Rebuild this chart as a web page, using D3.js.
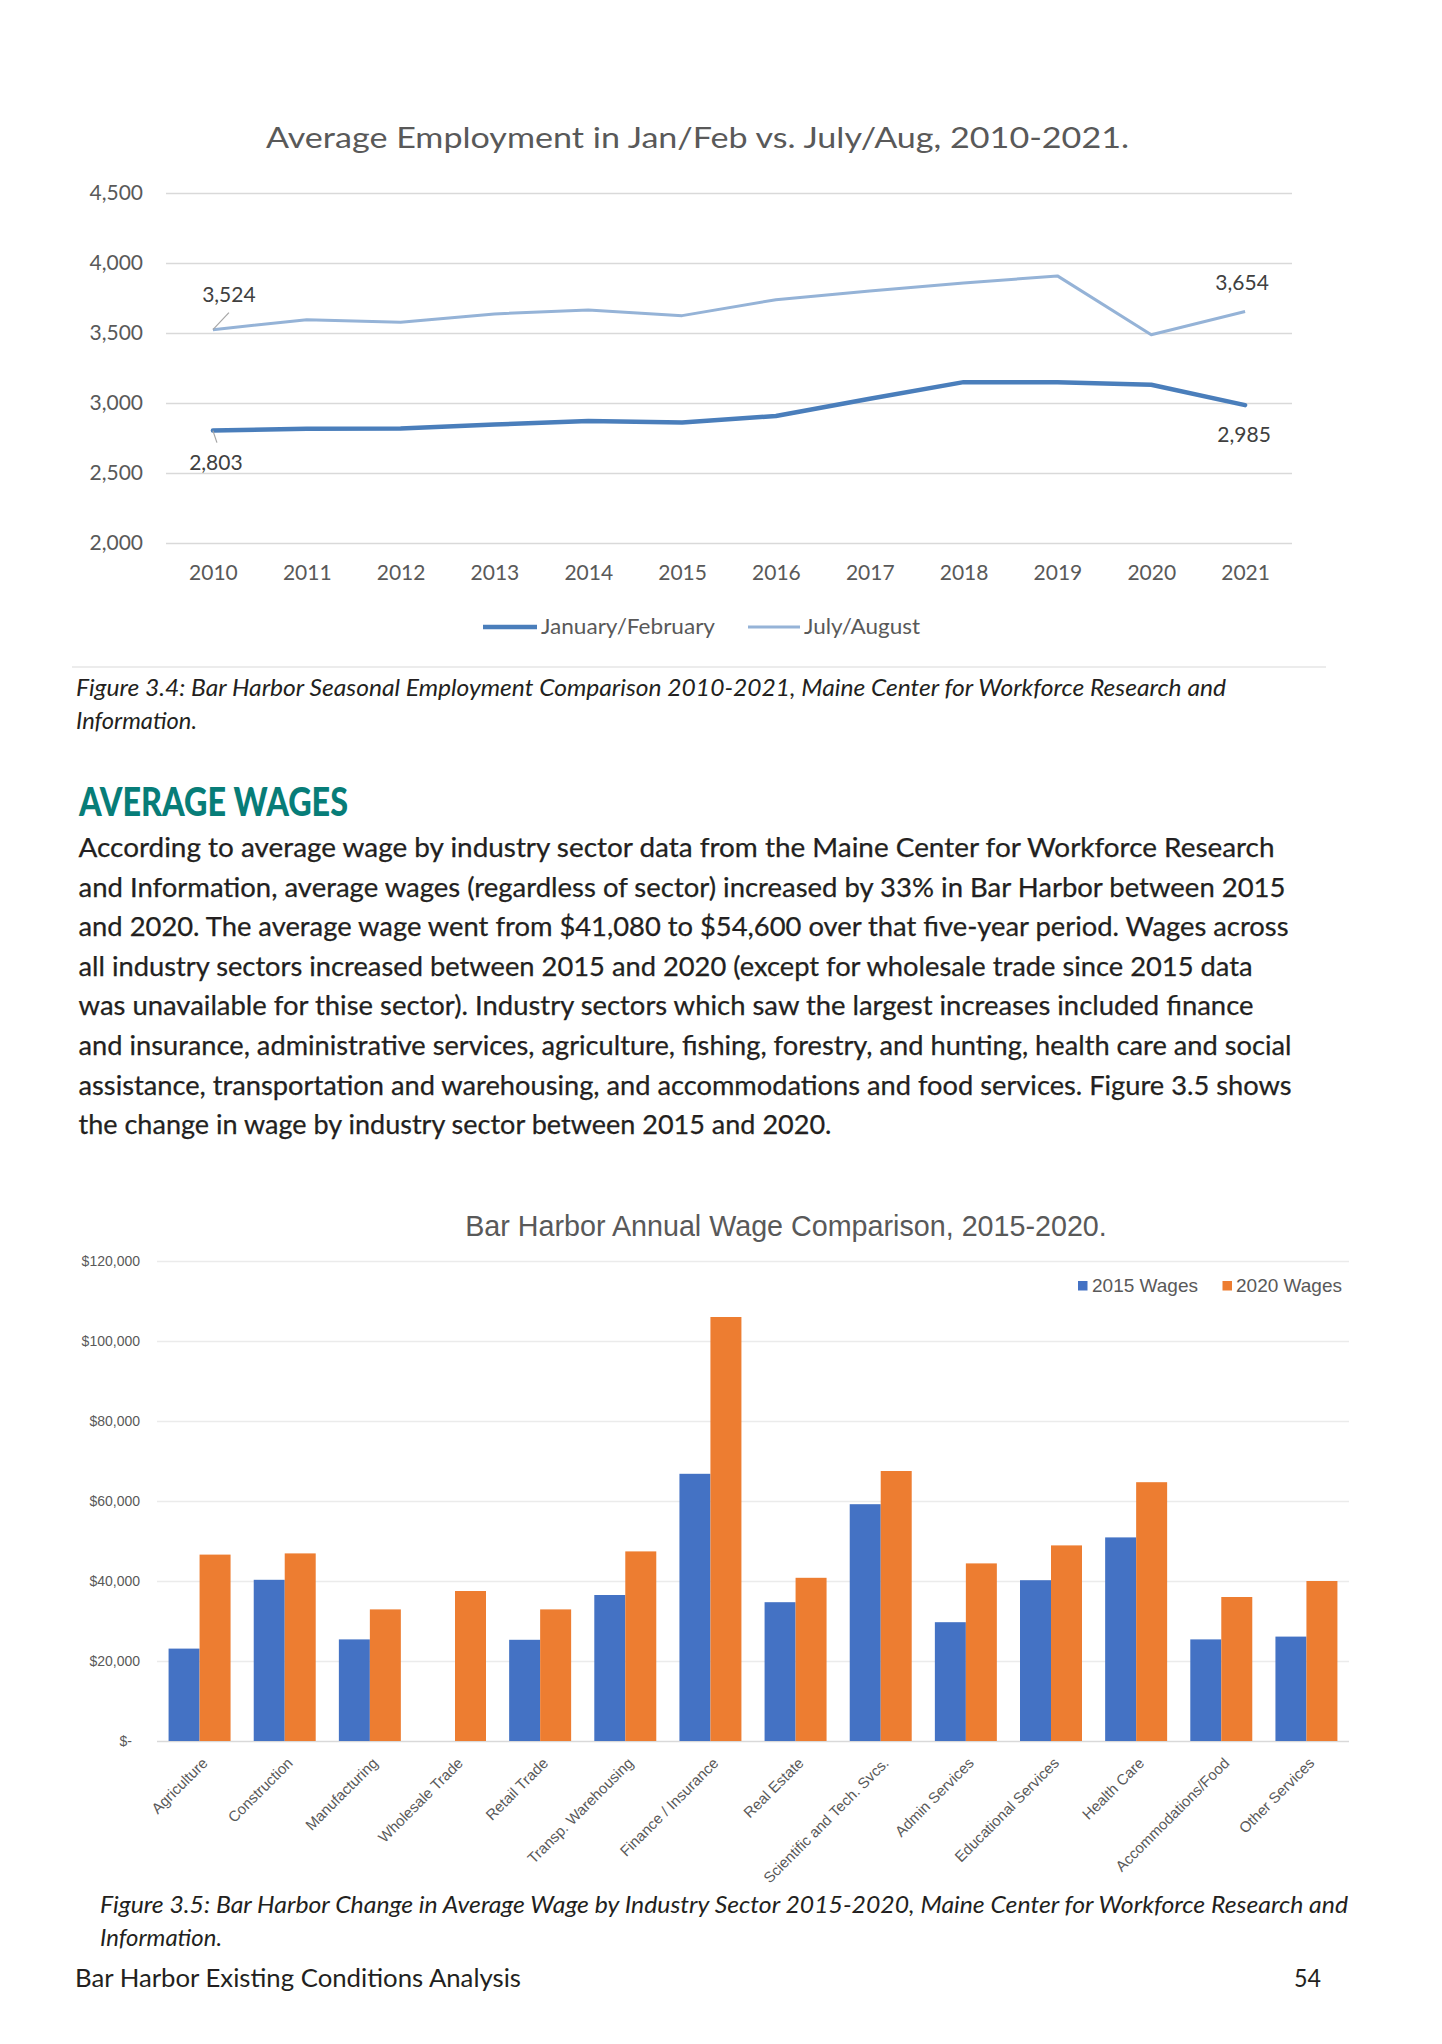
<!DOCTYPE html>
<html>
<head>
<meta charset="utf-8">
<script src="https://cdn.jsdelivr.net/npm/d3@7"></script>
<style>
  body { margin: 0; background: #fff; }
</style>
</head>
<body>
<svg id="page"></svg>
<script>
const width = 1442;
const height = 2044;

// Figure 3.4 - seasonal employment
const years = [2010, 2011, 2012, 2013, 2014, 2015, 2016, 2017, 2018, 2019, 2020, 2021];
const janFeb = [2803, 2816, 2817, 2846, 2872, 2860, 2907, 3030, 3149, 3149, 3130, 2985];
const julAug = [3524, 3595, 3576, 3636, 3665, 3624, 3738, 3800, 3857, 3908, 3487, 3654];
const empTicks = [2000, 2500, 3000, 3500, 4000, 4500];
const empSeries = ["January/February", "July/August"];

// Figure 3.5 - wages by industry sector
const industries = ["Agriculture", "Construction", "Manufacturing", "Wholesale Trade", "Retail Trade",
    "Transp. Warehousing", "Finance / Insurance", "Real Estate", "Scientific and Tech. Svcs.",
    "Admin Services", "Educational Services", "Health Care", "Accommodations/Food", "Other Services"];
const wages2015 = [23100, 40300, 25400, null, 25300, 36500, 66800, 34700, 59200, 29700, 40200, 50900, 25400, 26100];
const wages2020 = [46600, 46900, 32900, 37500, 32900, 47400, 106000, 40800, 67500, 44400, 48900, 64700, 36000, 40000];
const wageTicks = [0, 20000, 40000, 60000, 80000, 100000, 120000];
const wageSeries = ["2015 Wages", "2020 Wages"];

// Page text
const chart1Title = "Average Employment in Jan/Feb vs. July/Aug, 2010-2021.";
const chart2Title = "Bar Harbor Annual Wage Comparison, 2015-2020.";
const caption34 = ["Figure 3.4: Bar Harbor Seasonal Employment Comparison 2010-2021, Maine Center for Workforce Research and",
    "Information."];
const caption35 = ["Figure 3.5: Bar Harbor Change in Average Wage by Industry Sector 2015-2020, Maine Center for Workforce Research and",
    "Information."];
const heading = "AVERAGE WAGES";
const paragraph = [
    "According to average wage by industry sector data from the Maine Center for Workforce Research",
    "and Information, average wages (regardless of sector) increased by 33% in Bar Harbor between 2015",
    "and 2020. The average wage went from $41,080 to $54,600 over that five-year period. Wages across",
    "all industry sectors increased between 2015 and 2020 (except for wholesale trade since 2015 data",
    "was unavailable for thise sector). Industry sectors which saw the largest increases included finance",
    "and insurance, administrative services, agriculture, fishing, forestry, and hunting, health care and social",
    "assistance, transportation and warehousing, and accommodations and food services. Figure 3.5 shows",
    "the change in wage by industry sector between 2015 and 2020."
];
const footerLeft = "Bar Harbor Existing Conditions Analysis";
const footerRight = "54";

const bodyFont = "Lato, 'Open Sans', sans-serif";
const arialFont = "'Liberation Sans', Arial, sans-serif";

var svg = d3.select("#page")
    .attr("width", width)
    .attr("height", height)
    .attr("viewBox", `0 0 ${width} ${height}`);

svg.append("rect").attr("width", width).attr("height", height).attr("fill", "#fff");

// ---------- Line chart ----------
const lineX = d3.scalePoint().domain(years).range([166, 1292]).padding(0.5);
const lineY = d3.scaleLinear().domain([2000, 4500]).range([543, 193]);

const lineChart = svg.append("g").attr("class", "line-chart");

lineChart.append("text")
    .attr("x", 266).attr("y", 148)
    .attr("font-family", bodyFont).attr("font-size", 29)
    .attr("fill", "#595959")
    .attr("textLength", 863).attr("lengthAdjust", "spacingAndGlyphs")
    .text(chart1Title);

lineChart.append("g")
    .attr("transform", "translate(166,0)")
    .call(d3.axisLeft(lineY).tickValues(empTicks).tickSize(-(1292 - 166)).tickPadding(23).tickFormat(d3.format(",")))
    .call(g => g.select(".domain").remove())
    .call(g => g.selectAll(".tick line").attr("stroke", "#d9d9d9").attr("stroke-width", 1.5))
    .call(g => g.selectAll(".tick text").attr("fill", "#595959").attr("font-size", 21).attr("font-family", bodyFont));

lineChart.append("g")
    .attr("transform", "translate(0,543)")
    .call(d3.axisBottom(lineX).tickSize(0).tickPadding(22))
    .call(g => g.select(".domain").remove())
    .call(g => g.selectAll(".tick text").attr("fill", "#595959").attr("font-size", 21).attr("font-family", bodyFont));

const line = d3.line()
    .x((d, i) => lineX(years[i]))
    .y(d => lineY(d));

lineChart.append("path")
    .attr("d", line(julAug))
    .attr("fill", "none").attr("stroke", "#95b3d7").attr("stroke-width", 3)
    .attr("stroke-linejoin", "round");

lineChart.append("path")
    .attr("d", line(janFeb))
    .attr("fill", "none").attr("stroke", "#4a7ebb").attr("stroke-width", 4.5)
    .attr("stroke-linejoin", "round").attr("stroke-linecap", "round");

// data labels on first and last points
const last = years.length - 1;
const labels = [
    { year: years[0], value: julAug[0], dx: 16, dy: -28, leader: [16, -17] },
    { year: years[0], value: janFeb[0], dx: 3, dy: 39, leader: [4, 12] },
    { year: years[last], value: julAug[last], dx: -3, dy: -21, leader: null },
    { year: years[last], value: janFeb[last], dx: -1, dy: 37, leader: null }
];

labels.forEach(l => {
    const px = lineX(l.year), py = lineY(l.value);
    if (l.leader) {
        lineChart.append("line")
            .attr("x1", px).attr("y1", py)
            .attr("x2", px + l.leader[0]).attr("y2", py + l.leader[1])
            .attr("stroke", "#a6a6a6").attr("stroke-width", 1.2);
    }
    lineChart.append("text")
        .attr("x", px + l.dx).attr("y", py + l.dy)
        .attr("text-anchor", "middle")
        .attr("font-family", bodyFont).attr("font-size", 21)
        .attr("fill", "#404040")
        .text(d3.format(",")(l.value));
});

// legend
const lineLegend = lineChart.append("g").attr("font-family", bodyFont).attr("font-size", 21);
[[483, 537, 541, "#4a7ebb", 4.5, 174], [748, 800, 804, "#95b3d7", 3, 116]].forEach((s, i) => {
    lineLegend.append("line")
        .attr("x1", s[0]).attr("x2", s[1]).attr("y1", 627).attr("y2", 627)
        .attr("stroke", s[3]).attr("stroke-width", s[4]);
    lineLegend.append("text")
        .attr("x", s[2]).attr("y", 634)
        .attr("fill", "#595959")
        .attr("textLength", s[5]).attr("lengthAdjust", "spacingAndGlyphs")
        .text(empSeries[i]);
});

svg.append("line")
    .attr("x1", 72).attr("x2", 1326).attr("y1", 667).attr("y2", 667)
    .attr("stroke", "#d9d9d9").attr("stroke-width", 1.2);

// ---------- Page text ----------
const pageText = svg.append("g").attr("font-family", bodyFont).attr("fill", "#231f20");

function captionLines(lines, x, y0, widths) {
    lines.forEach((t, i) => {
        pageText.append("text")
            .attr("x", x).attr("y", y0 + i * 33)
            .attr("font-size", 23.5).attr("font-style", "italic")
            .attr("textLength", widths[i]).attr("lengthAdjust", "spacingAndGlyphs")
            .text(t);
    });
}

captionLines(caption34, 76, 696, [1150, 121]);

pageText.append("text")
    .attr("x", 79).attr("y", 816)
    .attr("font-size", 40).attr("font-weight", 900)
    .attr("fill", "#077d78")
    .attr("textLength", 269).attr("lengthAdjust", "spacingAndGlyphs")
    .text(heading);

const paraWidths = [1196, 1207, 1210, 1174, 1175, 1213, 1213, 753];
paragraph.forEach((t, i) => {
    pageText.append("text")
        .attr("x", 78.5).attr("y", 857 + i * 39.6)
        .attr("font-size", 26.5)
        .attr("stroke", "#231f20").attr("stroke-width", 0.25)
        .attr("textLength", paraWidths[i]).attr("lengthAdjust", "spacingAndGlyphs")
        .text(t);
});

captionLines(caption35, 100, 1913, [1248, 122]);

pageText.append("text")
    .attr("x", 75).attr("y", 1987)
    .attr("font-size", 24.5)
    .attr("textLength", 446).attr("lengthAdjust", "spacingAndGlyphs")
    .text(footerLeft);

pageText.append("text")
    .attr("x", 1294).attr("y", 1987)
    .attr("font-size", 24.5)
    .attr("textLength", 27).attr("lengthAdjust", "spacingAndGlyphs")
    .text(footerRight);

// ---------- Bar chart ----------
const barX = d3.scaleBand().domain(industries).range([157, 1349]).paddingInner(0.272).paddingOuter(0.136);
const barSub = d3.scaleBand().domain(wageSeries).range([0, barX.bandwidth()]);
const barY = d3.scaleLinear().domain([0, 120000]).range([1741, 1261]);
const barColor = d3.scaleOrdinal().domain(wageSeries).range(["#4472c4", "#ed7d31"]);

const barChart = svg.append("g").attr("class", "bar-chart");

barChart.append("text")
    .attr("x", 786).attr("y", 1236)
    .attr("text-anchor", "middle")
    .attr("font-family", arialFont).attr("font-size", 28.7)
    .attr("fill", "#595959")
    .text(chart2Title);

barChart.append("g")
    .attr("transform", "translate(157,0)")
    .call(d3.axisLeft(barY).tickValues(wageTicks).tickSize(-(1349 - 157)).tickPadding(17)
        .tickFormat(d => d === 0 ? "$-" : "$" + d3.format(",")(d)))
    .call(g => g.select(".domain").remove())
    .call(g => g.selectAll(".tick line").attr("stroke", d => d === 0 ? "#d9d9d9" : "#ebebeb").attr("stroke-width", 1.5))
    .call(g => g.selectAll(".tick text")
        .attr("x", d => d === 0 ? -25 : -17)
        .attr("fill", "#595959").attr("font-size", 14).attr("font-family", arialFont));

const groups = barChart.append("g")
    .selectAll("g")
    .data(industries)
    .join("g")
    .attr("transform", d => `translate(${barX(d)},0)`);

groups.selectAll("rect")
    .data((d, i) => [
        { key: wageSeries[0], value: wages2015[i] },
        { key: wageSeries[1], value: wages2020[i] }
    ].filter(v => v.value !== null))
    .join("rect")
    .attr("x", d => barSub(d.key))
    .attr("width", barSub.bandwidth())
    .attr("y", d => barY(d.value))
    .attr("height", d => barY(0) - barY(d.value))
    .attr("fill", d => barColor(d.key));

// rotated category labels
barChart.append("g")
    .selectAll("text")
    .data(industries)
    .join("text")
    .attr("transform", d => `translate(${barX(d) + barX.bandwidth() / 2 + 9},1764) rotate(-45)`)
    .attr("text-anchor", "end")
    .attr("font-family", arialFont).attr("font-size", 15)
    .attr("fill", "#595959")
    .text(d => d);

// legend
const barLegend = barChart.append("g").attr("font-family", arialFont).attr("font-size", 19);
[[1078, 1092], [1222.5, 1236]].forEach((p, i) => {
    barLegend.append("rect")
        .attr("x", p[0]).attr("y", 1281)
        .attr("width", 9.5).attr("height", 9.5)
        .attr("fill", barColor(wageSeries[i]));
    barLegend.append("text")
        .attr("x", p[1]).attr("y", 1292)
        .attr("fill", "#595959")
        .text(wageSeries[i]);
});
</script>
</body>
</html>
